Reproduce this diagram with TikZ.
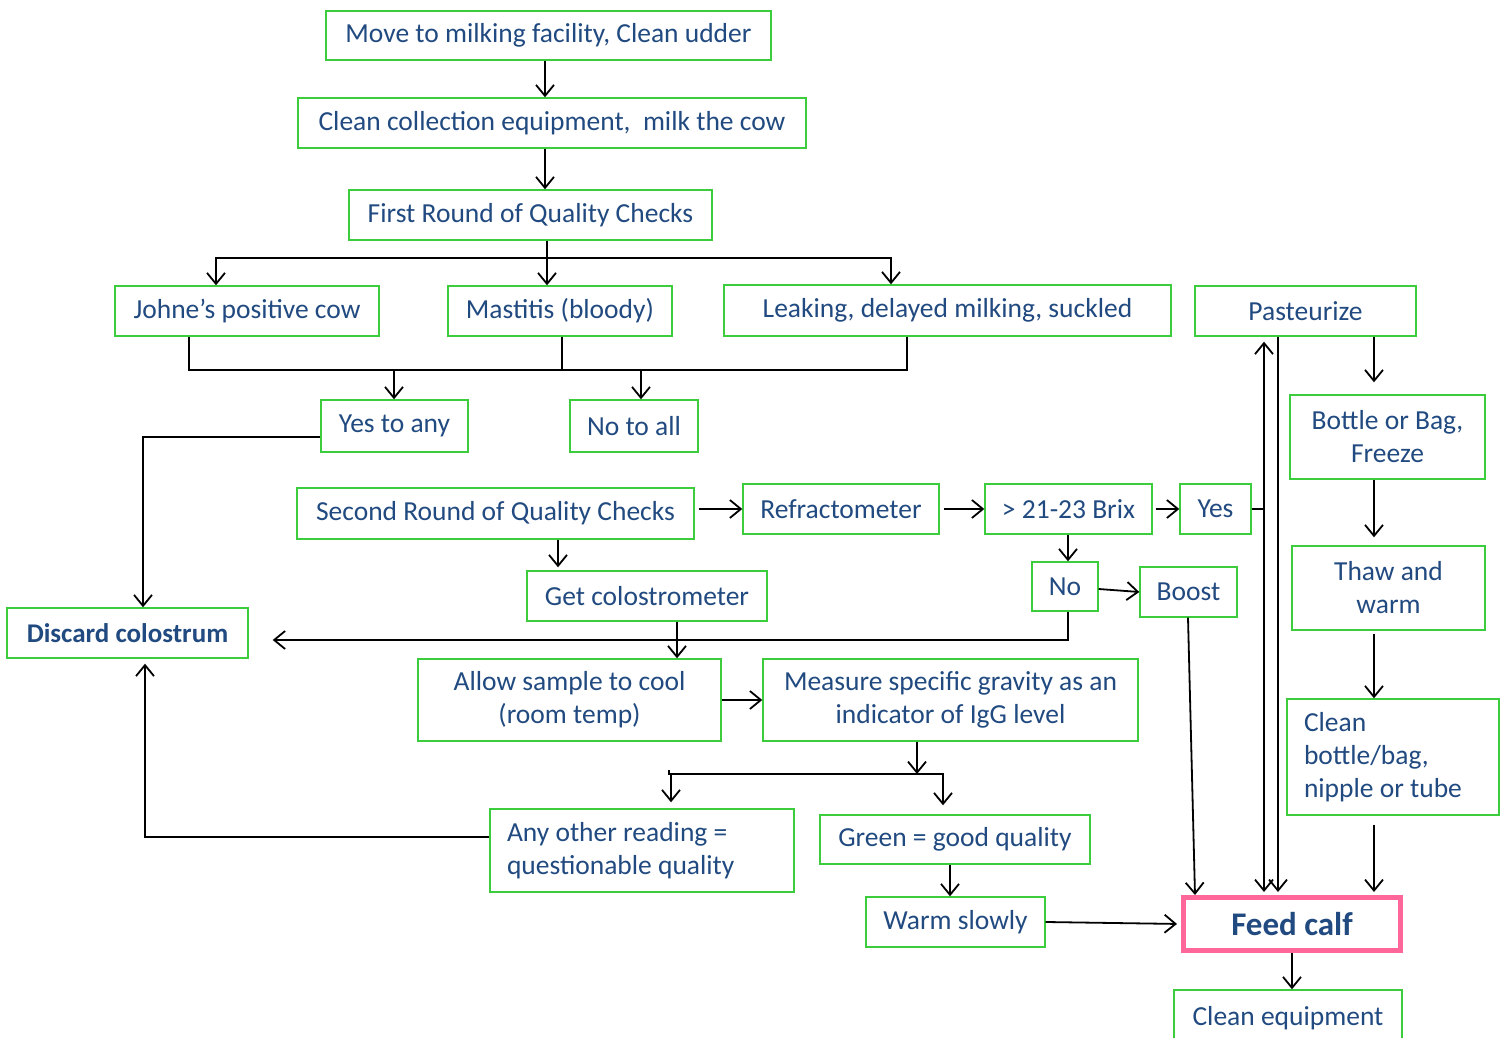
\documentclass[tikz,border=0pt]{standalone}
\usepackage{fontspec}
\setmainfont{Carlito}
\usetikzlibrary{arrows.meta}
\definecolor{gbox}{RGB}{60,205,60}
\definecolor{tblue}{RGB}{33,74,128}
\definecolor{pinkb}{RGB}{255,102,153}
\tikzset{
  box/.style={draw=gbox, line width=1.4pt, text=tblue, inner sep=0pt, align=center,
    font=\fontsize{27.5}{33}\selectfont},
  lbox/.style={box, align=flush left, inner xsep=17pt},
  ln/.style={draw=black, line width=1.8pt},
  arr/.style={ln, -{Straight Barb[length=11pt,width=18pt]}},
}
\begin{document}
\begin{tikzpicture}[x=1pt,y=-1pt]
\fill[white] (0,0) rectangle (1505,1038);
\clip (0,0) rectangle (1505,1038);
% nodes
\node[box, minimum width=445pt, minimum height=49pt] (m1) at (548.5,35.5) {Move to milking facility, Clean udder};
\node[box, minimum width=508pt, minimum height=50pt] (m2) at (552,123) {Clean collection equipment,\ \ milk the cow};
\node[box, minimum width=363pt, minimum height=50pt] (q1) at (530.5,215) {First Round of Quality Checks};
\node[box, minimum width=264pt, minimum height=50pt] (jo) at (247,311) {Johne’s positive cow};
\node[box, minimum width=224pt, minimum height=50pt] (ma) at (560,311) {Mastitis (bloody)};
\node[box, minimum width=447pt, minimum height=51pt] (le) at (947.5,310.5) {Leaking, delayed milking, suckled};
\node[box, minimum width=221pt, minimum height=50pt] (pa) at (1305.5,311) {Pasteurize};
\node[box, minimum width=147pt, minimum height=52pt] (ya) at (394.5,426) {Yes to any};
\node[box, minimum width=128pt, minimum height=52pt] (na) at (634,426) {No to all};
\node[box, minimum width=397pt, minimum height=51pt] (q2) at (495.5,513.5) {Second Round of Quality Checks};
\node[box, minimum width=196pt, minimum height=50pt] (rf) at (841,509) {Refractometer};
\node[box, minimum width=167pt, minimum height=50pt] (bx) at (1068.5,509) {> 21-23 Brix};
\node[box, minimum width=71pt, minimum height=50pt] (ys) at (1215.5,509) {Yes};
\node[box, minimum width=195pt, minimum height=84pt] (bb) at (1387.5,437) {Bottle or Bag,\\Freeze};
\node[box, minimum width=66pt, minimum height=49pt] (no) at (1065,586.5) {No};
\node[box, minimum width=97pt, minimum height=50pt] (bo) at (1188.5,592) {Boost};
\node[box, minimum width=240pt, minimum height=50pt] (gc) at (647,596) {Get colostrometer};
\node[box, minimum width=241pt, minimum height=50pt, font=\fontsize{27}{33}\selectfont\bfseries] (dc) at (127.5,633) {Discard colostrum};
\node[box, minimum width=193pt, minimum height=84pt] (tw) at (1388.5,588) {Thaw and\\warm};
\node[box, minimum width=303pt, minimum height=82pt] (as) at (569.5,700) {Allow sample to cool\\(room temp)};
\node[box, minimum width=375pt, minimum height=82pt] (ms) at (950.5,700) {Measure specific gravity as an\\indicator of IgG level};
\node[lbox, text width=178pt, minimum height=116pt] (cb) at (1393,757) {Clean\\bottle/bag,\\nipple or tube};
\node[lbox, text width=270pt, minimum height=83pt] (ao) at (642,850.5) {Any other reading =\\questionable quality};
\node[box, minimum width=270pt, minimum height=49pt] (gr) at (955,839.5) {Green = good quality};
\node[box, minimum width=179pt, minimum height=50pt] (ws) at (955.5,922) {Warm slowly};
\node[box, draw=pinkb, line width=5pt, minimum width=217pt, minimum height=53pt,
  font=\fontsize{33}{40}\selectfont\bfseries] (fc) at (1292,924) {Feed calf};
\node[box, minimum width=228pt, minimum height=64pt, text depth=0pt] (ce) at (1288,1022) {\raisebox{12pt}{Clean equipment}};
% connectors
\draw[arr] ([xshift=-3.5]m1.south) -- ([xshift=-7]m2.north);
\draw[arr] ([xshift=-7]m2.south) -- ([xshift=14.5]q1.north);
\coordinate (b1) at (547,258);
\draw[ln] ([xshift=16.5]q1.south) -- (b1);
\draw[arr] (b1) -| ([xshift=-31]jo.north);
\draw[arr] (b1) -| ([xshift=-56.5]le.north);
\draw[arr] (b1) -- ([xshift=-13]ma.north);
\draw[ln] ([xshift=-58]jo.south) -- ++(0,34);
\draw[ln] ([xshift=2]ma.south) -- ++(0,34);
\draw[ln] ([xshift=-40.5]le.south) -- ++(0,34);
\coordinate (j1) at (394,370);
\coordinate (j2) at (641,370);
\draw[ln, line width=2.6pt] (188,370) -- (908,370);
\draw[arr] (j1) -- ([xshift=-0.5]ya.north);
\draw[arr] (j2) -- ([xshift=7]na.north);
\draw[arr] ([yshift=-11]ya.west) -| ([xshift=15.5]dc.north);
\draw[arr, shorten <=4pt] ([yshift=4.5]q2.east) -- (rf.west);
\draw[arr, shorten <=4pt] (rf.east) -- (bx.west);
\draw[arr, shorten <=3pt] (bx.east) -- (ys.west);
\draw[arr, shorten >=5pt] (ys.east) -| ([xshift=-41.5]pa.south);
\draw[arr, shorten >=3pt] (ys.east) -| ([xshift=-28]fc.north);
\draw[arr, shorten >=3pt] ([xshift=-27.5]pa.south) -- ([xshift=-14]fc.north);
\draw[arr, shorten >=12pt] ([xshift=68.5]pa.south) -- ([xshift=-13.5]bb.north);
\draw[arr, shorten >=8pt] ([xshift=-13.5]bb.south) -- ([xshift=-14.5]tw.north);
\draw[arr, shorten <=3pt] ([xshift=-14.5]tw.south) -- ([xshift=-19]cb.north);
\draw[arr, shorten <=9pt, shorten >=3pt] ([xshift=-19]cb.south) -- ([xshift=82]fc.north);
\draw[arr] ([xshift=-0.5]bx.south) -- ([xshift=3]no.north);
\draw[arr] ([yshift=-2.5]no.east) -- (bo.west);
\draw[arr] ([xshift=-0.5]bo.south) -- ([xshift=-97]fc.north);
\draw[arr, shorten >=24pt] ([xshift=3]no.south) |- ([yshift=-7]dc.east);
\draw[arr, shorten >=3pt] ([xshift=62.5]q2.south) -- ([xshift=-89]gc.north);
\draw[arr] ([xshift=30]gc.south) -- ([xshift=107.5]as.north);
\draw[arr] (as.east) -- (ms.west);
\coordinate (k1) at (917,774);
\draw[arr] ([xshift=-33.5]ms.south) -- (k1);
\draw[ln] (669,770) -- (669,774) -- (943,774);
\draw[arr, shorten >=6pt] (k1) -| ([xshift=29]ao.north);
\draw[arr, shorten >=9pt] (k1) -| ([xshift=-12]gr.north);
\draw[arr, shorten >=5pt] ([yshift=13.5]ao.west) -| ([xshift=17.5]dc.south);
\draw[arr] ([xshift=-5]gr.south) -- ([xshift=-5.5]ws.north);
\draw[arr, shorten >=4pt] (ws.east) -- (fc.west);
\draw[arr] (fc.south) -- ([xshift=4]ce.north);
\end{tikzpicture}
\end{document}
